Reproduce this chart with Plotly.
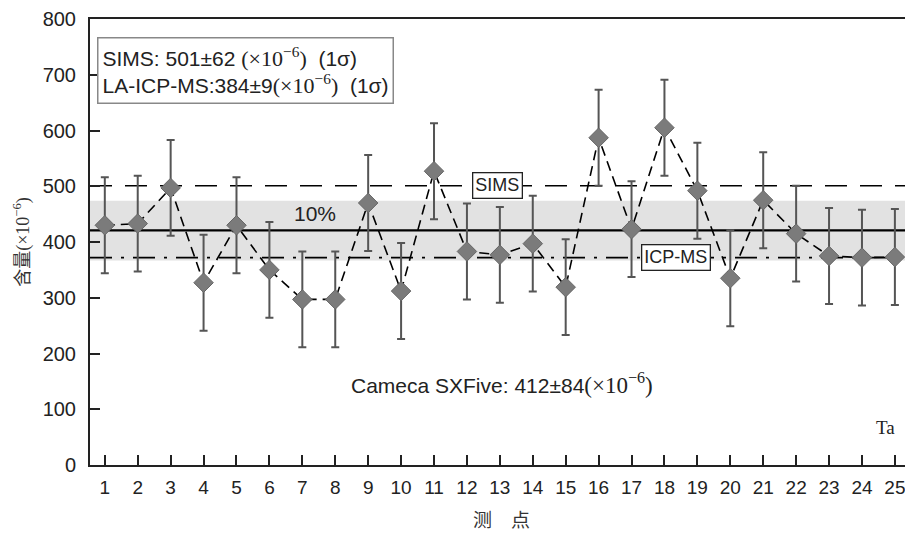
import plotly.graph_objects as go

points = list(range(1, 26))
ta_values = [430, 433, 497, 327, 430, 350, 297, 297, 470, 312, 527, 383, 377, 397, 319,
             587, 423, 605, 492, 335, 475, 415, 375, 372, 373]
ta_errors = [86] * 25
y_ticks = [0, 100, 200, 300, 400, 500, 600, 700, 800]

sims_mean = 501
icpms_mean = 372
cameca_mean = 421
band_low, band_high = 367, 474

SERIF = "Liberation Serif, Times New Roman, serif"
SANS = "Liberation Sans, Arial, sans-serif"

fig = go.Figure()

fig.add_trace(go.Scatter(
    x=points, y=ta_values,
    mode="lines+markers",
    line=dict(color="black", width=1.6, dash="10px,6px"),
    marker=dict(symbol="diamond", size=15, color="#7b7b7b", line=dict(color="#666666", width=1)),
    error_y=dict(type="data", array=ta_errors, visible=True, color="#555555", thickness=2, width=4),
    showlegend=False,
))

# 10% band
fig.add_shape(type="rect", xref="paper", yref="y", x0=0, x1=1, y0=band_low, y1=band_high,
              fillcolor="#e2e2e2", line=dict(width=0), layer="below")
# reference lines
fig.add_shape(type="line", xref="paper", yref="y", x0=0, x1=1, y0=sims_mean, y1=sims_mean,
              line=dict(color="black", width=1.6, dash="22px,13px"), layer="below")
fig.add_shape(type="line", xref="paper", yref="y", x0=0, x1=1, y0=icpms_mean, y1=icpms_mean,
              line=dict(color="black", width=1.6, dash="22px,9px,3px,9px"), layer="below")
fig.add_shape(type="line", xref="paper", yref="y", x0=0, x1=1, y0=cameca_mean, y1=cameca_mean,
              line=dict(color="black", width=2.2), layer="below")

def sup(size):
    return f'<span style="font-family:{SERIF};font-size:{size}px">(×10<sup>−6</sup>)</span>'

fig.add_annotation(
    xref="paper", yref="paper", x=0.0085, y=0.96, xanchor="left", yanchor="top",
    text=f"SIMS: 501±62 {sup(22)}  (1σ)<br>LA-ICP-MS:384±9{sup(22)}  (1σ)",
    showarrow=False, align="left", font=dict(family=SANS, size=21, color="#222"),
    bordercolor="#888", borderwidth=1.5, borderpad=4, bgcolor="white",
)
fig.add_annotation(x=7.38, y=452, text="10%", showarrow=False,
                   font=dict(family=SANS, size=21, color="#222"))
fig.add_annotation(x=12.94, y=sims_mean, text="SIMS", showarrow=False,
                   font=dict(family=SANS, size=18, color="#222"),
                   bgcolor="white", bordercolor="#222", borderwidth=1.3, borderpad=2)
fig.add_annotation(x=18.35, y=icpms_mean, text="ICP-MS", showarrow=False,
                   font=dict(family=SANS, size=18, color="#222"),
                   bgcolor="white", bordercolor="#222", borderwidth=1.3, borderpad=2)
fig.add_annotation(x=13.05, y=147, text=f"Cameca SXFive: 412±84{sup(23)}", showarrow=False,
                   font=dict(family=SANS, size=21, color="#222"))
fig.add_annotation(x=24.7, y=67, text="Ta", showarrow=False,
                   font=dict(family=SERIF, size=19, color="#222"))

fig.update_layout(
    width=905, height=527,
    margin=dict(l=82, r=0, t=6, b=70),
    paper_bgcolor="white", plot_bgcolor="white",
    font=dict(family=SANS, size=16, color="#222"),
    xaxis=dict(
        range=[0.55, 25.55], tickvals=points, ticktext=[str(p) for p in points],
        ticks="inside", ticklen=10, tickwidth=2, tickcolor="#222",
        showline=True, linecolor="#222", linewidth=2, mirror=True,
        showgrid=False, zeroline=False, ticklabeloverflow="allow", ticklabelstandoff=4,
        tickfont=dict(family=SANS, size=19, color="#222"),
        title=dict(text="测　点", font=dict(family="Noto Sans CJK SC", size=19, color="#333"), standoff=17),
    ),
    yaxis=dict(
        range=[0, 800], tickvals=y_ticks, ticks="inside", ticklen=10, tickwidth=2, tickcolor="#222",
        showline=True, linecolor="#222", linewidth=2,
        showgrid=False, zeroline=False, ticklabeloverflow="allow", ticklabelstandoff=8,
        tickfont=dict(family=SANS, size=20, color="#222"),
        title=dict(text=f'含量<span style="font-family:{SERIF}">(×10<sup>−6</sup>)</span>',
                   font=dict(family="Noto Sans CJK SC", size=18, color="#333"), standoff=13),
    ),
)

fig.write_html("out.html")
